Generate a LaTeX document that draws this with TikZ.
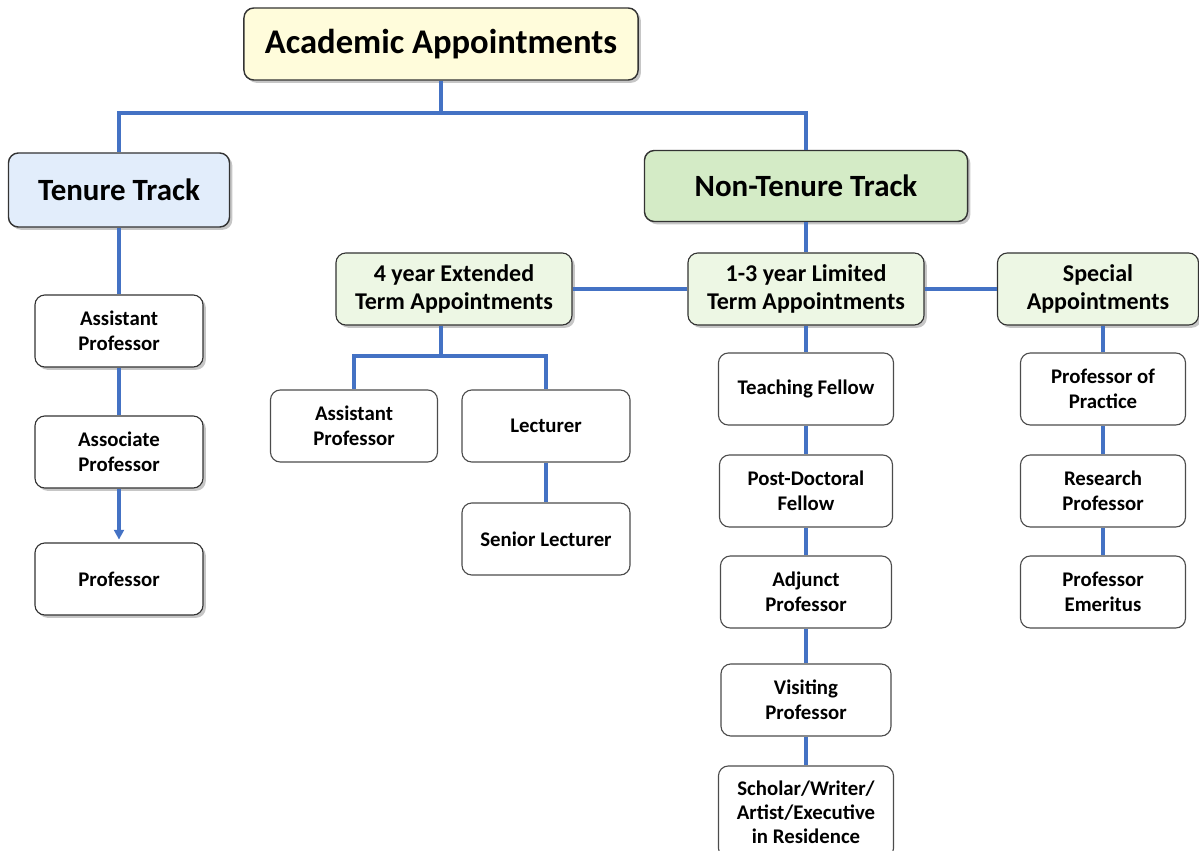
\documentclass[tikz,border=0pt]{standalone}
\usepackage{fontspec}
\setmainfont{Carlito}
\usetikzlibrary{arrows.meta,shadows,positioning}
\definecolor{linkblue}{HTML}{4472C4}
\definecolor{yellowpale}{HTML}{FFFCDB}
\definecolor{bluepale}{HTML}{E2EDFB}
\definecolor{greenmid}{HTML}{D4EBC6}
\definecolor{greenpale}{HTML}{EDF7E4}
\tikzstyle{box}=[rectangle,rounded corners=7pt,draw=black!70,line width=0.8pt,
  fill=white,align=center,inner sep=2pt,minimum width=4.2cm,minimum height=1.8cm,
  font=\bfseries\fontsize{14.8}{18}\selectfont]
\tikzstyle{shadowbox}=[box,draw=black!80,
  drop shadow={shadow xshift=2pt,shadow yshift=-2pt,opacity=0.45}]
\tikzstyle{midbox}=[shadowbox,fill=greenpale,minimum width=5.9cm,
  font=\bfseries\fontsize{17.1}{20}\selectfont]
\tikzstyle{trackbox}=[shadowbox,line width=1pt,font=\bfseries\fontsize{22}{26}\selectfont]
\tikzstyle{topbox}=[trackbox,fill=yellowpale,minimum width=9.85cm,
  font=\bfseries\fontsize{24.6}{28}\selectfont]
\tikzstyle{link}=[draw=linkblue,line width=2.6pt]

\begin{document}
\begin{tikzpicture}[x=0.025cm,y=-0.025cm]
  \useasboundingbox (0,0) rectangle (1199,850);

  % top levels
  \node[topbox] (acad) at (441,44) {Academic Appointments};
  \node[trackbox,fill=bluepale,minimum width=5.525cm,minimum height=1.85cm] (tenure) at (119,190) {Tenure Track};
  \node[trackbox,fill=greenmid,minimum width=8.075cm,minimum height=1.775cm] (nontenure) at (806,186) {Non-Tenure Track};

  % tenure track
  \node[shadowbox] (asst1) at (119,331) {Assistant\\Professor};
  \node[shadowbox] (assoc) at (119,452) {Associate\\Professor};
  \node[shadowbox] (prof) at (119,579) {Professor};

  % non-tenure groups
  \node[midbox] (ext) at (454,289) {4 year Extended\\Term Appointments};
  \node[midbox] (lim) at (806,289) {1-3 year Limited\\Term Appointments};
  \node[midbox,minimum width=5.025cm] (spec) at (1098,289) {Special\\Appointments};

  % extended term
  \node[box,minimum width=4.175cm] (asst2) at (354,426) {Assistant\\Professor};
  \node[box] (lec) at (546,426) {Lecturer};
  \node[box] (senlec) at (546,539) {Senior Lecturer};

  % limited term
  \node[box,minimum width=4.375cm] (tf) at (806,389) {Teaching Fellow};
  \node[box,minimum width=4.325cm] (pdf) at (806,491) {Post-Doctoral\\Fellow};
  \node[box,minimum width=4.275cm] (adj) at (806,592) {Adjunct\\Professor};
  \node[box,minimum width=4.25cm] (vis) at (806,700) {Visiting\\Professor};
  \node[box,minimum width=4.375cm,minimum height=2.3cm,
        font=\bfseries\fontsize{14.8}{17}\selectfont] (sch) at (806,812) {Scholar/Writer/\\Artist/Executive\\in Residence};

  % special
  \node[box,minimum width=4.125cm] (pp) at (1103,389) {Professor of\\Practice};
  \node[box,minimum width=4.125cm] (rp) at (1103,491) {Research\\Professor};
  \node[box,minimum width=4.125cm] (pe) at (1103,592) {Professor\\Emeritus};

  % connectors
  \coordinate (j0) at (441,113);
  \coordinate (j1) at (441,356);
  \draw[link] (acad) -- (j0) -| (tenure);
  \draw[link] (j0) -| (nontenure);
  \path[link] (tenure) edge (asst1)
        (asst1) edge (assoc);
  \draw[link,-{Triangle[length=7pt,width=7pt]},shorten >=2pt] (assoc) -- (prof);
  \path[link] (nontenure) edge (lim)
        (ext) edge (lim)
        (lim) edge (spec);
  \draw[link] (ext.south -| j1) -- (j1) -| (asst2);
  \draw[link] (j1) -| (lec);
  \path[link] (lec) edge (senlec);
  \path[link] (lim) edge (tf)
        (tf) edge (pdf)
        (pdf) edge (adj)
        (adj) edge (vis)
        (vis) edge (sch);
  \draw[link] (spec.south -| pp) -- (pp);
  \path[link] (pp) edge (rp)
        (rp) edge (pe);
\end{tikzpicture}
\end{document}
